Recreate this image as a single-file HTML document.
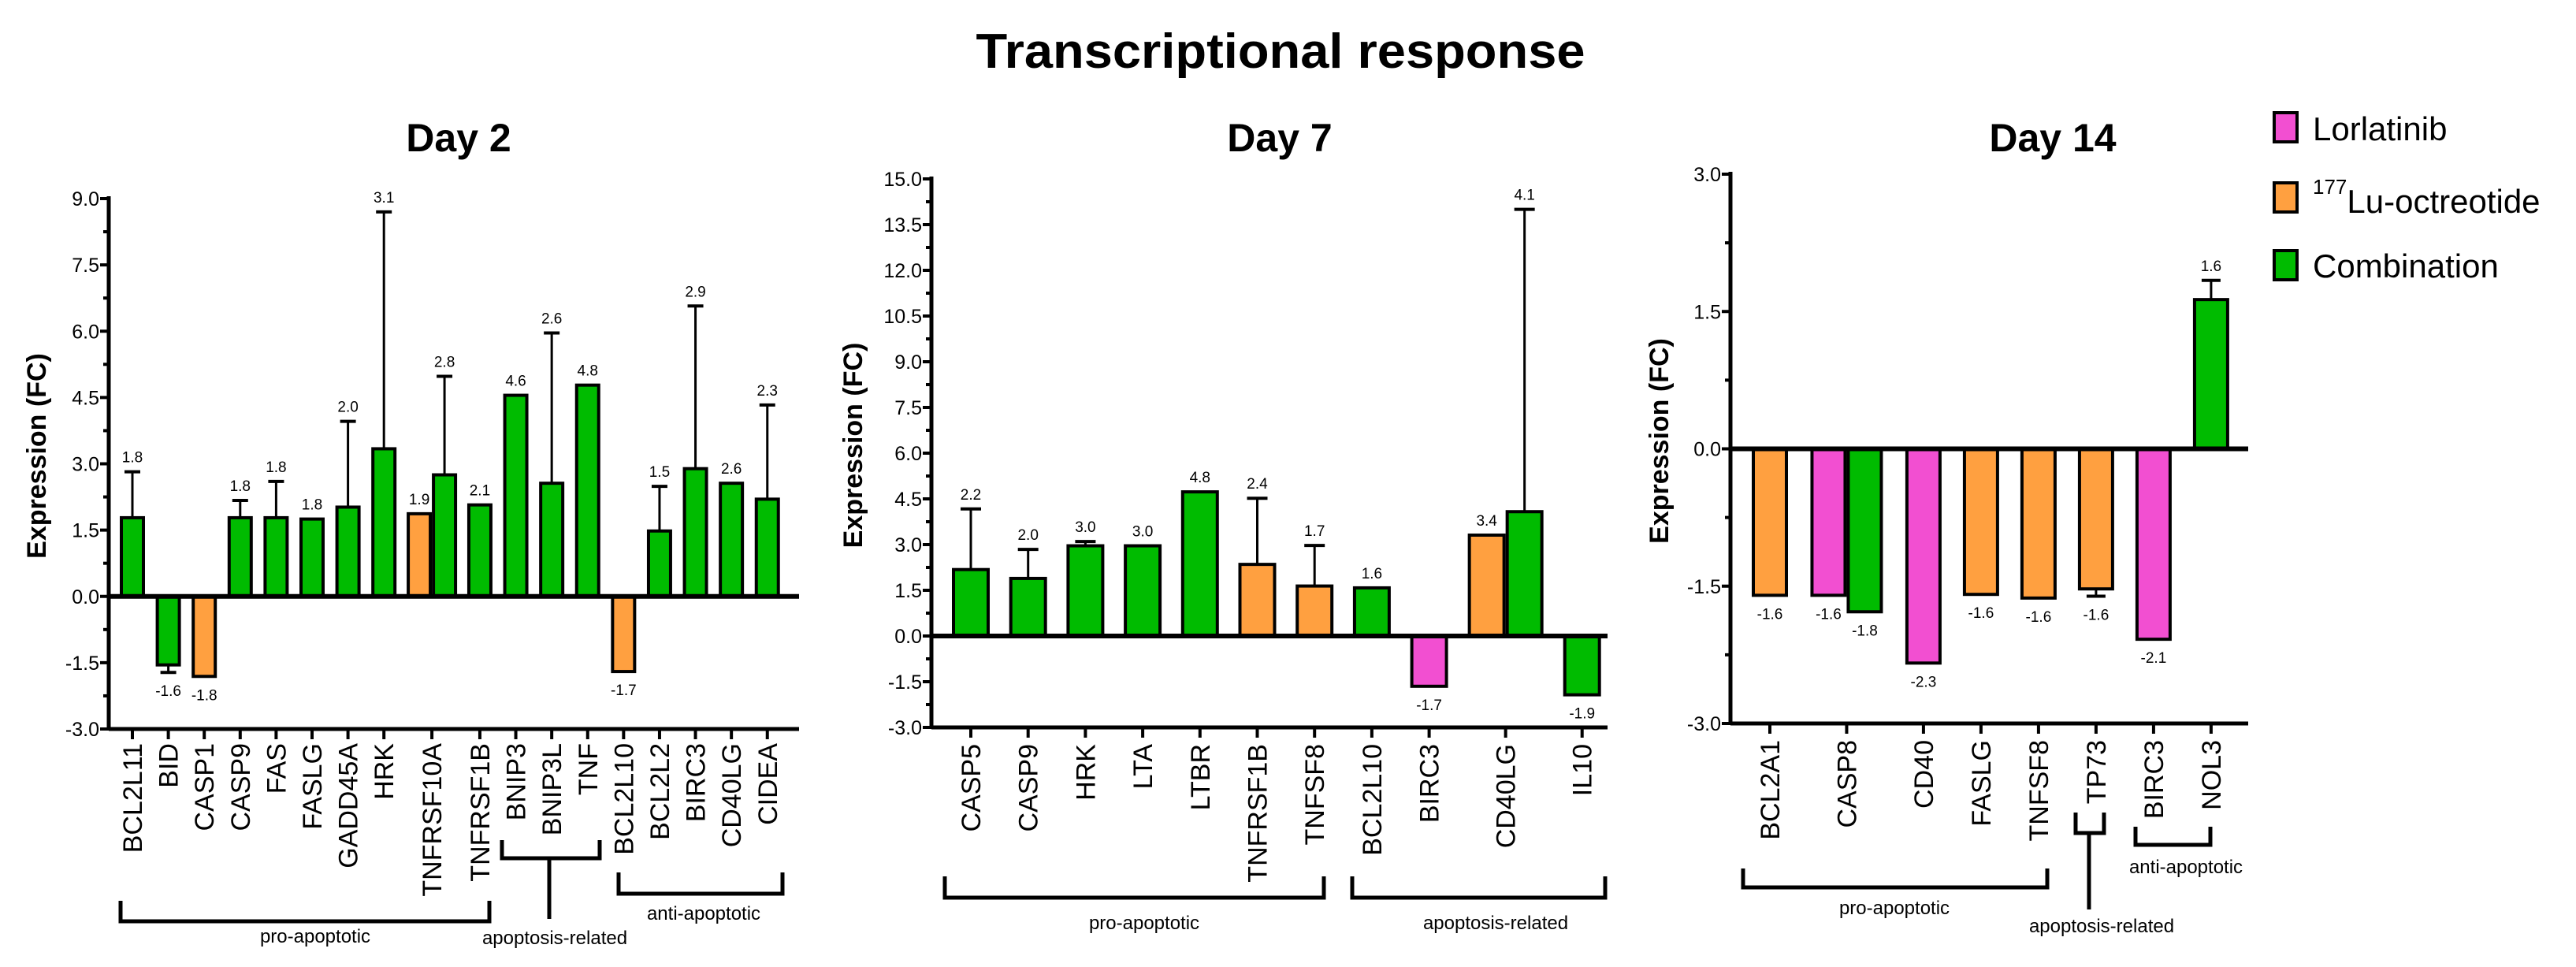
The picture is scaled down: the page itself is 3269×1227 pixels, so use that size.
<!DOCTYPE html>
<html><head><meta charset="utf-8"><style>
html,body{margin:0;padding:0;background:#fff;}
svg{display:block;font-family:"Liberation Sans",sans-serif;}
</style></head><body>
<svg id="chart" width="3269" height="1227" viewBox="0 0 3269 1227" xmlns="http://www.w3.org/2000/svg">
<text x="1625" y="86" text-anchor="middle" font-size="62" font-weight="bold" textLength="773" lengthAdjust="spacingAndGlyphs">Transcriptional response</text>
<g id="legend">
  <g>
    <rect x="2886" y="143" width="29" height="37" fill="#f24fd1" stroke="#000" stroke-width="4"/>
    <text x="2935" y="178" font-size="42">Lorlatinib</text>
  </g>
  <g>
    <rect x="2886" y="232" width="29" height="37" fill="#ffa040" stroke="#000" stroke-width="4"/>
    <text x="2935" y="270" font-size="42"><tspan font-size="26" dy="-24">177</tspan><tspan dy="24">Lu-octreotide</tspan></text>
  </g>
  <g>
    <rect x="2886" y="318" width="29" height="37" fill="#00bb00" stroke="#000" stroke-width="4"/>
    <text x="2935" y="352" font-size="42">Combination</text>
  </g>
</g>
</svg>
<script>
// ---------- Data: Day 2 ----------
const d2Categories = ["BCL2L11","BID","CASP1","CASP9","FAS","FASLG","GADD45A","HRK","TNFRSF10A","TNFRSF1B","BNIP3","BNIP3L","TNF","BCL2L10","BCL2L2","BIRC3","CD40LG","CIDEA"];
const d2BarCat    = ["BCL2L11","BID","CASP1","CASP9","FAS","FASLG","GADD45A","HRK","TNFRSF10A","TNFRSF10A","TNFRSF1B","BNIP3","BNIP3L","TNF","BCL2L10","BCL2L2","BIRC3","CD40LG","CIDEA"];
const d2BarSeries = ["comb","comb","lu","comb","comb","comb","comb","comb","lu","comb","comb","comb","comb","comb","lu","comb","comb","comb","comb"];
const d2Values    = [1.78,-1.55,-1.81,1.78,1.78,1.75,2.02,3.34,1.87,2.75,2.07,4.55,2.56,4.78,-1.70,1.48,2.89,2.56,2.20];
const d2ErrTop    = [2.82,-1.72,null,2.17,2.60,null,3.96,8.70,null,4.98,null,null,5.96,null,null,2.49,6.57,null,4.33];
const d2Labels    = ["1.8","-1.6","-1.8","1.8","1.8","1.8","2.0","3.1","1.9","2.8","2.1","4.6","2.6","4.8","-1.7","1.5","2.9","2.6","2.3"];
const d2Ticks     = ["-3.0","-1.5","0.0","1.5","3.0","4.5","6.0","7.5","9.0"];

// ---------- Data: Day 7 ----------
const d7Categories = ["CASP5","CASP9","HRK","LTA","LTBR","TNFRSF1B","TNFSF8","BCL2L10","BIRC3","CD40LG","IL10"];
const d7BarCat    = ["CASP5","CASP9","HRK","LTA","LTBR","TNFRSF1B","TNFSF8","BCL2L10","BIRC3","CD40LG","CD40LG","IL10"];
const d7BarSeries = ["comb","comb","comb","comb","comb","lu","lu","comb","lor","lu","comb","comb"];
const d7Values    = [2.18,1.89,2.96,2.96,4.73,2.35,1.64,1.58,-1.65,3.31,4.08,-1.93];
const d7ErrTop    = [4.17,2.84,3.10,null,null,4.52,2.97,null,null,null,14.0,null];
const d7Labels    = ["2.2","2.0","3.0","3.0","4.8","2.4","1.7","1.6","-1.7","3.4","4.1","-1.9"];
const d7Ticks     = ["-3.0","-1.5","0.0","1.5","3.0","4.5","6.0","7.5","9.0","10.5","12.0","13.5","15.0"];

// ---------- Data: Day 14 ----------
const d14Categories = ["BCL2A1","CASP8","CD40","FASLG","TNFSF8","TP73","BIRC3","NOL3"];
const d14BarCat    = ["BCL2A1","CASP8","CASP8","CD40","FASLG","TNFSF8","TP73","BIRC3","NOL3"];
const d14BarSeries = ["lu","lor","comb","lor","lu","lu","lu","lor","comb"];
const d14Values    = [-1.60,-1.60,-1.78,-2.34,-1.59,-1.63,-1.53,-2.08,1.63];
const d14ErrTop    = [null,null,null,null,null,null,-1.61,null,1.84];
const d14Labels    = ["-1.6","-1.6","-1.8","-2.3","-1.6","-1.6","-1.6","-2.1","1.6"];
const d14Ticks     = ["-3.0","-1.5","0.0","1.5","3.0"];

const seriesColor = {lor:"#f24fd1", lu:"#ffa040", comb:"#00bb00"};
const NS = "http://www.w3.org/2000/svg";
const svg = document.getElementById("chart");

function mk(tag, attrs, parent){
  const e = document.createElementNS(NS, tag);
  for (const k in attrs) e.setAttribute(k, attrs[k]);
  (parent||svg).appendChild(e);
  return e;
}

function drawPanel(p){
  const g = mk("g", {});
  
  
  const tickVals = p.ticks.map(Number);
  const vmin = tickVals[0], vmax = tickVals[tickVals.length-1];
  const y = v => p.yBottom - (v - vmin) / (vmax - vmin) * (p.yBottom - p.yTop);
  // category positions from weights
  const counts = {};
  p.barCat.forEach(c => counts[c] = (counts[c]||0) + 1);
  const centers = {};
  let pos = 0, prevW = null;
  p.cats.forEach((c, i) => {
    const w = counts[c] > 1 ? 1.67 : 1;
    if (i > 0) pos += (prevW + w) / 2;
    centers[c] = p.firstX + pos * p.unit;
    prevW = w;
  });
  // title
  const t = mk("text", {x:p.titleX, y:192, "text-anchor":"middle", "font-size":50, "font-weight":"bold"}, g);
  
  
  t.textContent = p.title;
  // y-axis title
  const ym = (p.yTop + p.yBottom) / 2 - 10;
  const yt = mk("text", {x:p.yTitleX, y:ym, "text-anchor":"middle", "font-size":34, "font-weight":"bold", transform:`rotate(-90 ${p.yTitleX} ${ym})`}, g);
  
  
  yt.textContent = "Expression (FC)";
  // y axis
  const ya = mk("line", {x1:p.x0, y1:p.yTop-3, x2:p.x0, y2:p.yBottom+2, stroke:"#000", "stroke-width":5}, g);
  
  
  tickVals.forEach((v, i) => {
    mk("line", {x1:p.x0-11, y1:y(v), x2:p.x0, y2:y(v), stroke:"#000", "stroke-width":4}, g);
    if (i < tickVals.length - 1) {
      const mv = (v + tickVals[i+1]) / 2;
      mk("line", {x1:p.x0-7, y1:y(mv), x2:p.x0, y2:y(mv), stroke:"#000", "stroke-width":4}, g);
    }
    const tl = mk("text", {x:p.x0-12, y:y(v)+9, "text-anchor":"end", "font-size":25}, g);
    
    
    tl.textContent = p.ticks[i];
  });
  // bottom axis line
  const xa = mk("line", {x1:p.x0, y1:p.yBottom, x2:p.xEnd, y2:p.yBottom, stroke:"#000", "stroke-width":5}, g);
  
  
  // category ticks & labels
  p.cats.forEach(c => {
    const cx = centers[c];
    mk("line", {x1:cx, y1:p.yBottom, x2:cx, y2:p.yBottom+13, stroke:"#000", "stroke-width":4}, g);
    const lx = cx + 12, ly = p.labelTop;
    const cl = mk("text", {x:lx, y:ly, "text-anchor":"end", "font-size":34, transform:`rotate(-90 ${lx} ${ly})`}, g);
    
    
    cl.textContent = c;
  });
  // bars
  const seen = {};
  p.barCat.forEach((c, i) => {
    const n = counts[c];
    seen[c] = (seen[c]||0) + 1;
    let cx = centers[c];
    if (n > 1) cx += (seen[c] === 1 ? -1 : 1) * (p.barW/2 + 2);
    const v = p.values[i];
    const y0 = y(0), yv = y(v);
    const r = mk("rect", {x:cx - p.barW/2, y:Math.min(y0, yv), width:p.barW, height:Math.abs(yv - y0), fill:seriesColor[p.series[i]], stroke:"#000", "stroke-width":4}, g);
    
    
    let labelRef = yv;
    const e = p.err[i];
    if (e !== null) {
      const ye = y(e);
      const el = mk("line", {x1:cx, y1:yv, x2:cx, y2:ye, stroke:"#000", "stroke-width":3}, g);
      
      
      mk("line", {x1:cx - p.cap/2, y1:ye, x2:cx + p.cap/2, y2:ye, stroke:"#000", "stroke-width":4}, g);
      labelRef = ye;
    }
    const ly = v >= 0 ? labelRef - 12 : labelRef + 30;
    const vl = mk("text", {x:cx, y:ly, "text-anchor":"middle", "font-size":19}, g);
    
    
    vl.textContent = p.labels[i];
  });
  // zero line
  const zl = mk("line", {x1:p.x0, y1:y(0), x2:p.xEnd, y2:y(0), stroke:"#000", "stroke-width":6}, g);
  
  
  // group brackets
  p.brackets.forEach(b => {
    const bg = mk("g", {}, g);
    
    
    mk("polyline", {points:`${b.x1},${b.top} ${b.x1},${b.h} ${b.x2},${b.h} ${b.x2},${b.top}`, fill:"none", stroke:"#000", "stroke-width":5}, bg);
    if (b.stem) mk("line", {x1:b.stem, y1:b.h, x2:b.stem, y2:b.stemEnd, stroke:"#000", "stroke-width":5}, bg);
    const bt = mk("text", {x:b.lx, y:b.ly, "text-anchor":"middle", "font-size":24}, bg);
    
    
    bt.textContent = b.text;
  });
}

drawPanel({id:"day2", title:"Day 2", titleX:582, yTitleX:58, x0:138, xEnd:1014, yTop:252, yBottom:925,
  firstX:168, unit:45.6, barW:28, cap:20, labelTop:943,
  cats:d2Categories, barCat:d2BarCat, series:d2BarSeries, values:d2Values, err:d2ErrTop, labels:d2Labels, ticks:d2Ticks,
  brackets:[
    {name:"pro", x1:153, x2:621, top:1143, h:1169, lx:400, ly:1196, text:"pro-apoptotic"},
    {name:"related", x1:637, x2:761, top:1066, h:1089, stem:697, stemEnd:1166, lx:704, ly:1198, text:"apoptosis-related"},
    {name:"anti", x1:785, x2:993, top:1107, h:1134, lx:893, ly:1167, text:"anti-apoptotic"}
  ]});
drawPanel({id:"day7", title:"Day 7", titleX:1624, yTitleX:1094, x0:1182, xEnd:2040, yTop:227, yBottom:923,
  firstX:1232, unit:72.7, barW:44, cap:26, labelTop:944,
  cats:d7Categories, barCat:d7BarCat, series:d7BarSeries, values:d7Values, err:d7ErrTop, labels:d7Labels, ticks:d7Ticks,
  brackets:[
    {name:"pro", x1:1199, x2:1680, top:1112, h:1139, lx:1452, ly:1179, text:"pro-apoptotic"},
    {name:"related", x1:1716, x2:2037, top:1112, h:1139, lx:1898, ly:1179, text:"apoptosis-related"}
  ]});
drawPanel({id:"day14", title:"Day 14", titleX:2605, yTitleX:2117, x0:2196, xEnd:2853, yTop:221, yBottom:918,
  firstX:2246, unit:73, barW:42, cap:24, labelTop:939,
  cats:d14Categories, barCat:d14BarCat, series:d14BarSeries, values:d14Values, err:d14ErrTop, labels:d14Labels, ticks:d14Ticks,
  brackets:[
    {name:"pro", x1:2212, x2:2598, top:1102, h:1126, lx:2404, ly:1160, text:"pro-apoptotic"},
    {name:"related", x1:2634, x2:2670, top:1031, h:1057, stem:2651, stemEnd:1154, lx:2667, ly:1183, text:"apoptosis-related"},
    {name:"anti", x1:2710, x2:2805, top:1049, h:1072, lx:2774, ly:1108, text:"anti-apoptotic"}
  ]});
</script>
</body></html>
